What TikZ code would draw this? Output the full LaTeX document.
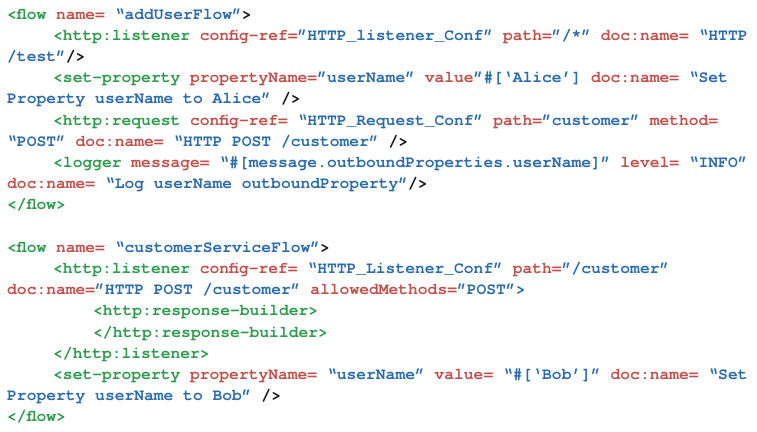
\documentclass[tikz,border=0pt]{standalone}
\usepackage{fontspec}
\setmonofont{texgyrecursor}[Extension=.otf, UprightFont=*-bold, BoldFont=*-bold]
\definecolor{tagG}{RGB}{47,155,78}
\definecolor{attR}{RGB}{192,82,78}
\definecolor{valB}{RGB}{44,108,170}
\newcommand{\ctag}[1]{\textcolor{tagG}{#1}}
\newcommand{\catt}[1]{\textcolor{attR}{#1}}
\newcommand{\cval}[1]{\textcolor{valB}{#1}}
\tikzset{codeline/.style={anchor=base west, inner sep=0pt, text=black!90, font=\ttfamily\fontsize{16.3}{20}\selectfont}}
\begin{document}
\begin{tikzpicture}[x=1pt, y=1pt]
\def\xa{7} \def\xb{53} \def\xc{93} % indents
\def\yb{19} \def\dy{21.2} % baselines
\useasboundingbox (0,0) rectangle (757,-431);
% addUserFlow
\node[codeline] (l1) at (\xa,{-\yb}) {\ctag{<flow} \catt{name=} \cval{“addUserFlow”}>};
\node[codeline] (l2) at (\xb,{-\yb-1*\dy}) {\ctag{<http:listener} \catt{config-ref=}\cval{”HTTP\_listener\_Conf”} \catt{path=}\cval{”/*”} \catt{doc:name=} \cval{“HTTP}};
\node[codeline] (l3) at (\xa,{-\yb-2*\dy}) {\cval{/test”}/>};
\node[codeline] (l4) at (\xb,{-\yb-3*\dy}) {\ctag{<set-property} \catt{propertyName=}\cval{”userName”} \catt{value}\cval{”\#[‘Alice’]} \catt{doc:name=} \cval{“Set}};
\node[codeline] (l5) at (\xa,{-\yb-4*\dy}) {\cval{Property userName to Alice”} />};
\node[codeline] (l6) at (\xb,{-\yb-5*\dy}) {\ctag{<http:request} \catt{config-ref=} \cval{“HTTP\_Request\_Conf”} \catt{path=}\cval{”customer”} \catt{method=}};
\node[codeline] (l7) at (\xa,{-\yb-6*\dy}) {\cval{“POST”} \catt{doc:name=} \cval{“HTTP POST /customer”} />};
\node[codeline] (l8) at (\xb,{-\yb-7*\dy}) {\ctag{<logger} \catt{message=} \cval{“\#[message.outboundProperties.userName]”} \catt{level=} \cval{“INFO”}};
\node[codeline] (l9) at (\xa,{-\yb-8*\dy}) {\catt{doc:name=} \cval{“Log userName outboundProperty”}/>};
\node[codeline] (l10) at (\xa,{-\yb-9*\dy}) {\ctag{</flow>}};
% customerServiceFlow
\node[codeline] (l12) at (\xa,{-\yb-11*\dy}) {\ctag{<flow} \catt{name=} \cval{“customerServiceFlow”}>};
\node[codeline] (l13) at (\xb,{-\yb-12*\dy}) {\ctag{<http:listener} \catt{config-ref=} \cval{“HTTP\_Listener\_Conf”} \catt{path=}\cval{”/customer”}};
\node[codeline] (l14) at (\xa,{-\yb-13*\dy}) {\catt{doc:name=}\cval{”HTTP POST /customer”} \catt{allowedMethods=}\cval{”POST”>}};
\node[codeline] (l15) at (\xc,{-\yb-14*\dy}) {\ctag{<http:response-builder>}};
\node[codeline] (l16) at (\xc,{-\yb-15*\dy}) {\ctag{</http:response-builder>}};
\node[codeline] (l17) at (\xb,{-\yb-16*\dy}) {\ctag{</http:listener>}};
\node[codeline] (l18) at (\xb,{-\yb-17*\dy}) {\ctag{<set-property} \catt{propertyName=} \cval{“userName”} \catt{value=} \cval{“\#[‘Bob’]”} \catt{doc:name=} \cval{“Set}};
\node[codeline] (l19) at (\xa,{-\yb-18*\dy}) {\cval{Property userName to Bob”} />};
\node[codeline] (l20) at (\xa,{-\yb-19*\dy}) {\ctag{</flow>}};
\end{tikzpicture}
\end{document}
